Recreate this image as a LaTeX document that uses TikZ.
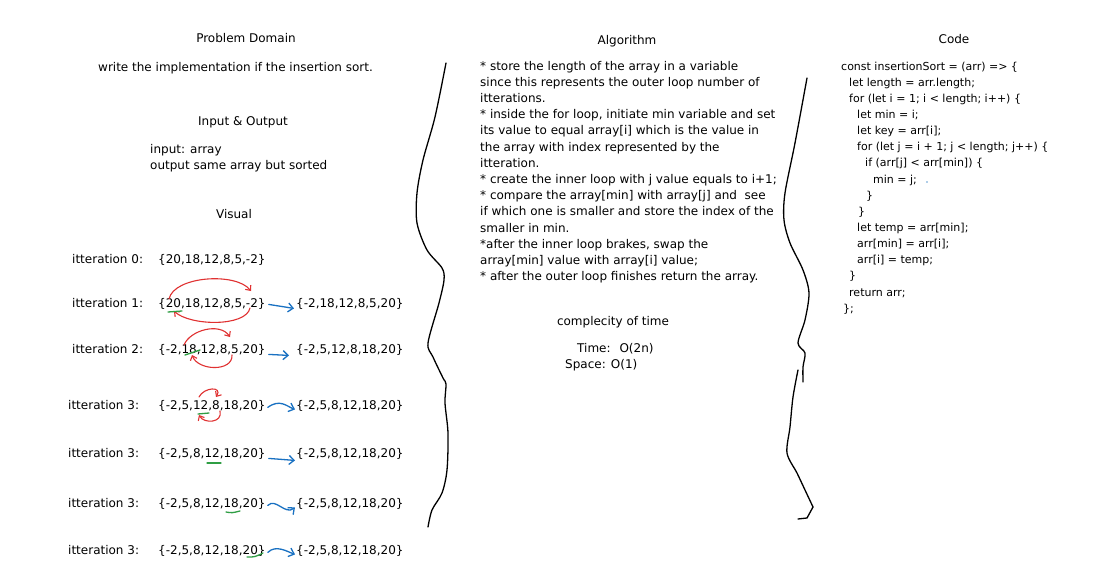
\documentclass[tikz,border=0pt]{standalone}
\usepackage{fontspec}
\setmainfont{DejaVu Sans}
\usetikzlibrary{arrows.meta,positioning,calc}

\definecolor{sketchred}{RGB}{224,49,49}
\definecolor{sketchblue}{RGB}{25,113,194}
\definecolor{sketchgreen}{RGB}{47,158,68}

\tikzset{
    txt/.style={inner sep=0pt, font=\fontsize{12}{16}\selectfont},
    codetxt/.style={inner sep=0pt, font=\fontsize{11}{16}\selectfont},
    divider/.style={line width=1.3pt, line cap=round, line join=round},
    redarr/.style={sketchred, line width=1.1pt, line cap=round, -{Straight Barb[length=4pt,width=7pt]}},
    bluearr/.style={sketchblue, line width=1.3pt, line cap=round, -{Straight Barb[length=5pt,width=9pt]}},
    greenline/.style={sketchgreen, line width=1.3pt, line cap=round}
}

\begin{document}
\begin{tikzpicture}[x=1pt,y=-1pt]
    \useasboundingbox (0,0) rectangle (1112,574);
    \fill[white] (0,0) rectangle (1112,574);

    % Problem domain
    \node[txt,anchor=base] (pdtitle) at (246,42) {Problem Domain};
    \node[txt,anchor=base west] (pdtext) at (98,71) {write the implementation if the insertion sort.};
    \node[txt,anchor=base] (iotitle) at (243,125) {Input \& Output};
    \node[txt,anchor=base west] (input) at (150,153) {input: array};
    \node[txt,anchor=base west] (output) at (150,169) {output same array but sorted};
    \node[txt,anchor=base] (vistitle) at (234,218) {Visual};

    % Visual rows
    \node[txt,anchor=base west] (lbl0) at (72,263) {itteration 0:};
    \node[txt,anchor=base west] (arr0) at (158,263) {\{20,18,12,8,5,-2\}};
    \foreach \i/\y/\lx/\n/\arr/\res in {
        1/307/72/1/{\{20,18,12,8,5,-2\}}/{\{-2,18,12,8,5,20\}},
        2/353/72/2/{\{-2,18,12,8,5,20\}}/{\{-2,5,12,8,18,20\}},
        3/409/68/3/{\{-2,5,12,8,18,20\}}/{\{-2,5,8,12,18,20\}},
        4/457/68/3/{\{-2,5,8,12,18,20\}}/{\{-2,5,8,12,18,20\}},
        5/507/68/3/{\{-2,5,8,12,18,20\}}/{\{-2,5,8,12,18,20\}},
        6/554/68/3/{\{-2,5,8,12,18,20\}}/{\{-2,5,8,12,18,20\}}} {
        \node[txt,anchor=base west] (lbl\i) at (\lx,\y) {itteration \n:};
        \node[txt,anchor=base west] (arr\i) at (158,\y) {\arr};
        \node[txt,anchor=base west] (res\i) at (296,\y) {\res};
    }

    % Arrows to the result
    \draw[bluearr] ([xshift=3pt,yshift=-1pt]arr1.east) -- ([xshift=-2pt,yshift=-5pt]res1.west);
    \draw[bluearr] ([xshift=3pt,yshift=-5pt]arr2.east) -- ([xshift=-7pt,yshift=-6pt]res2.west);
    \draw[bluearr] ([xshift=2pt,yshift=-2pt]arr3.east) .. controls +(12,-9) and +(-8,-3) .. ([xshift=-1pt,yshift=-4pt]res3.west);
    \draw[bluearr] ([xshift=3pt,yshift=-5pt]arr4.east) -- ([xshift=-1pt,yshift=-7pt]res4.west);
    \draw[bluearr] ([xshift=2pt,yshift=-2pt]arr5.east) .. controls +(8,-8) and +(-10,8) .. ([xshift=-1pt,yshift=-4pt]res5.west);
    \draw[bluearr] ([xshift=2pt,yshift=-2pt]arr6.east) .. controls +(8,-8) and +(-8,-3) .. ([xshift=-1pt,yshift=-4pt]res6.west);

    % Swaps
    \draw[redarr] (169,299) .. controls (174,276) and (236,272) .. (251,291);
    \draw[redarr] (250,308) .. controls (246,327) and (190,326) .. (174,311);
    \draw[redarr] (184,345) .. controls (190,330) and (220,322) .. (230,337);
    \draw[redarr] (232,355) .. controls (233,372) and (198,371) .. (192,355);
    \draw[redarr] (199,397) .. controls (204,387) and (223,386) .. (216,397);
    \draw[redarr] (220,411) .. controls (223,423) and (204,424) .. (199,415);

    % Current element
    \draw[greenline] (168,312) -- (182,311);
    \draw[greenline] (185,355) -- (200,350);
    \draw[greenline] (198,414) -- (209,413);
    \draw[greenline] (207,463) -- (221,463);
    \draw[greenline] (226,512) .. controls (232,513) .. (240,511);
    \draw[greenline] (247,557) .. controls (255,557) .. (263,553);

    % Dividers
    \draw[divider] plot[smooth] coordinates {(446,63) (435,117) (423,160) (417,193)
        (417,223) (427,250) (442,268) (444,280) (439,303) (428,343) (433,357)
        (443,378) (446,384) (445,403) (448,433) (447,470) (442,493) (432,510) (428,527)};
    \draw[divider] plot[smooth] coordinates {(807,78) (795,143) (785,193) (784,220)
        (790,243) (803,270) (809,293) (805,320) (798,343) (805,353) (803,367) (803,382)};
    \draw[divider] plot[smooth] coordinates {(798,370) (793,397) (790,427) (787,453)
        (797,473) (805,490) (813,507)};
    \draw[divider] (813,507) -- (807,518) -- (798,519);

    % Algorithm
    \node[txt,anchor=base] (algtitle) at (627,44) {Algorithm};
    \foreach \line [count=\i] in {
        {* store the length of the array in a variable},
        {since this represents the outer loop number of},
        {itterations.},
        {* inside the for loop, initiate min variable and set},
        {its value to equal array[i] which is the value in},
        {the array with index represented by the},
        {itteration.},
        {* create the inner loop with j value equals to i+1;},
        {* compare the array[min] with array[j] and \ see},
        {if which one is smaller and store the index of the},
        {smaller in min.},
        {*after the inner loop brakes, swap the},
        {array[min] value with array[i] value;},
        {* after the outer loop finishes return the array.}} {
        \node[txt,anchor=base west] (alg\i) at (480,{70+16.2*(\i-1)}) {\line};
    }
    \node[txt,anchor=base] (cxtitle) at (613,325) {complecity of time};
    \node[txt,anchor=base west] (cxtime) at (577,352) {Time: \ O(2n)};
    \node[txt,anchor=base west] (cxspace) at (565,368) {Space: O(1)};

    % Code
    \node[txt,anchor=base] (codetitle) at (954,43) {Code};
    \foreach \lx/\line [count=\i] in {
        841/{const insertionSort = (arr) => \{},
        849/{let length = arr.length;},
        849/{for (let i = 1; i < length; i++) \{},
        857/{let min = i;},
        857/{let key = arr[i];},
        857/{for (let j = i + 1; j < length; j++) \{},
        865/{if (arr[j] < arr[min]) \{},
        873/{min = j;},
        866/{\}},
        858/{\}},
        857/{let temp = arr[min];},
        857/{arr[min] = arr[i];},
        857/{arr[i] = temp;},
        849/{\}},
        849/{return arr;},
        843/{\};}} {
        \node[codetxt,anchor=base west] (code\i) at (\lx,{70+16.15*(\i-1)}) {\line};
    }
    \fill[sketchblue!70] (927,182) circle (0.8pt);
\end{tikzpicture}
\end{document}
